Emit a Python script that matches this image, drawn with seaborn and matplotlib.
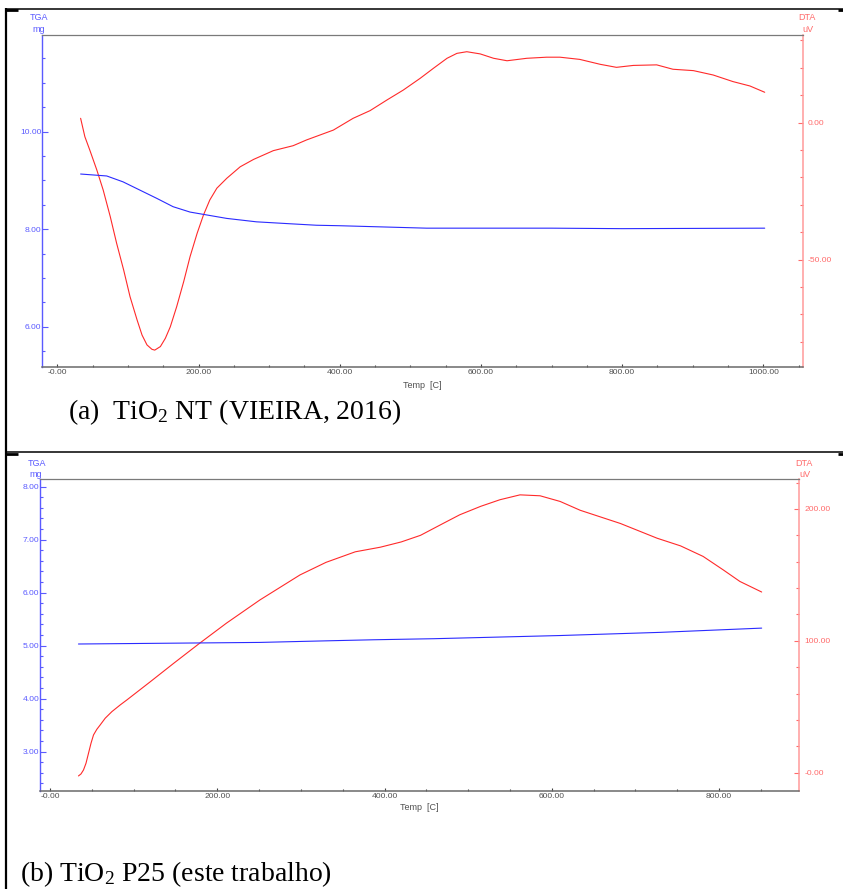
import numpy as np
import pandas as pd
import matplotlib
matplotlib.use("Agg")
import matplotlib.pyplot as plt
from matplotlib.lines import Line2D
from matplotlib.ticker import MultipleLocator
import seaborn as sns

# ---------------- data ----------------
# Panel (a): TiO2 NT
temp_a_dta = [33, 39, 46, 56, 65, 75, 84, 94, 103, 113, 120, 127, 134, 138, 146, 153,
              160, 169, 179, 188, 198, 207, 216, 226, 240, 259, 278, 306, 334, 353,
              372, 391, 419, 443, 467, 490, 514, 533, 552, 566, 580, 599, 618, 637,
              665, 693, 712, 740, 769, 792, 816, 849, 872, 901, 929, 957, 981, 1002]
dta_a = [1.6, -5.1, -10.0, -17.3, -24.6, -34.3, -44.0, -53.8, -63.5, -72.0, -77.5,
         -81.1, -82.7, -83.0, -81.7, -78.7, -74.5, -67.2, -58.0, -48.9, -40.4, -33.7,
         -28.2, -23.9, -20.3, -16.1, -13.4, -10.2, -8.4, -6.3, -4.5, -2.7, 1.6, 4.4,
         8.3, 11.9, 16.2, 19.9, 23.5, 25.3, 25.9, 25.1, 23.5, 22.6, 23.5, 23.9, 23.9,
         23.1, 21.3, 20.2, 20.9, 21.1, 19.5, 19.0, 17.4, 15.0, 13.4, 11.1]
temp_a_tga = [33, 70, 93, 117, 141, 164, 188, 212, 240, 282, 330, 367, 400, 523,
              700, 800, 1002]
tga_a = [9.13, 9.09, 8.97, 8.80, 8.63, 8.46, 8.35, 8.29, 8.22, 8.15, 8.11, 8.08,
         8.07, 8.02, 8.02, 8.01, 8.02]

# Panel (b): TiO2 P25
temp_b_dta = [34, 37, 40, 43, 46, 49, 52, 56, 60, 66, 74, 84, 92, 120, 148, 179, 211,
              251, 299, 330, 365, 395, 420, 443, 470, 490, 515, 538, 562, 586, 610,
              634, 682, 726, 754, 781, 805, 825, 851]
dta_b = [-2.5, -1.0, 2.0, 7.1, 14.7, 22.3, 28.6, 32.9, 36.2, 41.3, 46.3, 51.4, 55.2,
         69.0, 83.0, 98.2, 113.4, 131.0, 150.0, 159.5, 167.5, 171.0, 175.0, 180.0,
         189.0, 195.6, 202.0, 207.0, 210.7, 210.0, 205.7, 199.0, 189.0, 177.8, 172.0,
         164.0, 153.8, 145.0, 137.0]
temp_b_tga = [34, 179, 251, 331, 387, 459, 610, 730, 851]
tga_b = [5.03, 5.05, 5.06, 5.09, 5.11, 5.13, 5.19, 5.25, 5.33]

# tick values / labels
xticks_a = [0, 200, 400, 600, 800, 1000]
xlabels_a = ["-0.00", "200.00", "400.00", "600.00", "800.00", "1000.00"]
tgaticks_a = [6, 8, 10]
tgalabels_a = ["6.00", "8.00", "10.00"]
dtaticks_a = [-50, 0]
dtalabels_a = ["-50.00", "0.00"]

xticks_b = [0, 200, 400, 600, 800]
xlabels_b = ["-0.00", "200.00", "400.00", "600.00", "800.00"]
tgaticks_b = [3, 4, 5, 6, 7, 8]
tgalabels_b = ["3.00", "4.00", "5.00", "6.00", "7.00", "8.00"]
dtaticks_b = [0, 100, 200]
dtalabels_b = ["-0.00", "100.00", "200.00"]

caption_a = "(a)  TiO$_2$ NT (VIEIRA, 2016)"
caption_b = "(b) TiO$_2$ P25 (este trabalho)"

# ---------------- style ----------------
sns.set_theme(style="white")
plt.rcParams["font.family"] = ["Liberation Sans", "DejaVu Sans"]
plt.rcParams["mathtext.fontset"] = "custom"
plt.rcParams["mathtext.rm"] = "Liberation Serif"
plt.rcParams["mathtext.it"] = "Liberation Serif:italic"

W, H = 843, 889
fig = plt.figure(figsize=(W / 100, H / 100), dpi=100)
fig.patch.set_facecolor("white")

def fx(x):
    return x / W

def fy(y):
    return 1 - y / H

TGA_C = "#2b2bff"
DTA_C = "#ff2a2a"
LBLUE = "#5a5aff"
LRED = "#ff6a6a"
GRAY_T = "#505050"
TICK_FS = 6.1


def make_panel(box, xlim, tga_lim, dta_lim, tga_df, dta_df,
               xt, xl, tt, tl, dt, dl, tga_minor, dta_minor):
    left, top, right, bottom = box
    ax = fig.add_axes([fx(left), fy(bottom), fx(right) - fx(left), fy(top) - fy(bottom)])
    ax2 = ax.twinx()
    ax2.set_zorder(ax.get_zorder() - 1)
    ax.patch.set_visible(False)

    sns.lineplot(data=dta_df, x="Temp", y="DTA", ax=ax2, color=DTA_C, lw=0.8,
                 estimator=None, sort=False)
    sns.lineplot(data=tga_df, x="Temp", y="TGA", ax=ax, color=TGA_C, lw=0.8,
                 estimator=None, sort=False)

    ax.set_xlim(*xlim)
    ax.set_ylim(*tga_lim)
    ax2.set_ylim(*dta_lim)
    ax.set_xlabel("")
    ax.set_ylabel("")
    ax2.set_ylabel("")

    ax.set_xticks(xt, xl)
    ax.xaxis.set_minor_locator(MultipleLocator(50))
    ax.set_yticks(tt, tl)
    ax.yaxis.set_minor_locator(MultipleLocator(tga_minor))
    ax2.set_yticks(dt, dl)
    ax2.yaxis.set_minor_locator(MultipleLocator(dta_minor))

    ax.tick_params(axis="x", which="major", direction="in", length=2.5, width=0.8,
                   color="#404040", labelsize=TICK_FS, labelcolor=GRAY_T, pad=2,
                   bottom=True, top=False)
    ax.tick_params(axis="x", which="minor", direction="in", length=1.2, width=0.8,
                   color="#404040", bottom=True, top=False)
    ax.tick_params(axis="y", which="major", direction="in", length=4.2, width=0.8,
                   color=LBLUE, labelsize=TICK_FS, labelcolor=LBLUE, pad=0.5,
                   left=True, right=False)
    ax.tick_params(axis="y", which="minor", direction="in", length=2.0, width=0.8,
                   color=LBLUE, left=True, right=False)
    ax2.tick_params(axis="y", which="major", direction="in", length=3.5, width=0.8,
                    color=LRED, labelsize=TICK_FS, labelcolor=LRED, pad=3.5,
                    right=True, left=False)
    ax2.tick_params(axis="y", which="minor", direction="in", length=2.5, width=0.8,
                    color=LRED, right=True, left=False)

    for a in (ax, ax2):
        a.grid(False)
        for s in a.spines.values():
            s.set_visible(False)
    ax.spines["left"].set_visible(True)
    ax.spines["left"].set_color(LBLUE)
    ax.spines["left"].set_linewidth(1.0)
    ax.spines["bottom"].set_visible(True)
    ax.spines["bottom"].set_color("#6a6a6a")
    ax.spines["bottom"].set_linewidth(1.1)
    ax.spines["top"].set_visible(True)
    ax.spines["top"].set_color("#7a7a7a")
    ax.spines["top"].set_linewidth(0.9)
    ax2.spines["right"].set_visible(True)
    ax2.spines["right"].set_color("#ff9a9a")
    ax2.spines["right"].set_linewidth(1.1)
    return ax, ax2


df_a_dta = pd.DataFrame({"Temp": temp_a_dta, "DTA": dta_a})
df_a_tga = pd.DataFrame({"Temp": temp_a_tga, "TGA": tga_a})
df_b_dta = pd.DataFrame({"Temp": temp_b_dta, "DTA": dta_b})
df_b_tga = pd.DataFrame({"Temp": temp_b_tga, "TGA": tga_b})

# panel (a)
make_panel((42, 35, 802.7, 366.7), (-21.7, 1055.8), (5.18, 11.98), (-89.05, 32.0),
           df_a_tga, df_a_dta, xticks_a, xlabels_a, tgaticks_a, tgalabels_a,
           dtaticks_a, dtalabels_a, 0.5, 10)
# panel (b)
make_panel((40, 479.3, 799.3, 790.7), (-12, 896), (2.26, 8.14), (-13.7, 222.5),
           df_b_tga, df_b_dta, xticks_b, xlabels_b, tgaticks_b, tgalabels_b,
           dtaticks_b, dtalabels_b, 0.2, 20)

# axis titles
lab_fs = 6.5
for (x, y, s, c) in [(39, 17.5, "TGA", LBLUE), (39, 30, "mg", LBLUE),
                     (807, 17.5, "DTA", LRED), (808, 30, "uV", LRED),
                     (37, 463.5, "TGA", LBLUE), (36, 474.5, "mg", LBLUE),
                     (803.5, 464, "DTA", LRED), (804.5, 474.5, "uV", LRED),
                     (422.4, 385, "Temp  [C]", GRAY_T), (419.6, 808, "Temp  [C]", GRAY_T)]:
    fig.text(fx(x), fy(y), s, color=c, fontsize=lab_fs, ha="center", va="center")

# captions
fig.text(fx(68), fy(419), caption_a, family="Liberation Serif", fontsize=20,
         color="black", ha="left", va="baseline")
fig.text(fx(20), fy(881), caption_b, family="Liberation Serif", fontsize=20,
         color="black", ha="left", va="baseline")

# table borders
def hline(y, x0, x1, lw):
    fig.add_artist(Line2D([fx(x0), fx(x1)], [fy(y), fy(y)], color="black", lw=lw,
                          transform=fig.transFigure, solid_capstyle="butt"))

def vline(x, y0, y1, lw):
    fig.add_artist(Line2D([fx(x), fx(x)], [fy(y0), fy(y1)], color="black", lw=lw,
                          transform=fig.transFigure, solid_capstyle="butt"))

vline(6, 7.5, 889, 1.6)
hline(8.5, 5, 843, 1.1)
hline(452.5, 5, 843, 1.1)
hline(9.5, 5, 18, 2.0)
hline(453.5, 5, 18, 2.0)
hline(9.5, 838, 843, 2.0)
hline(453.5, 838, 843, 2.0)

fig.savefig("out.png", dpi=100, facecolor="white")
